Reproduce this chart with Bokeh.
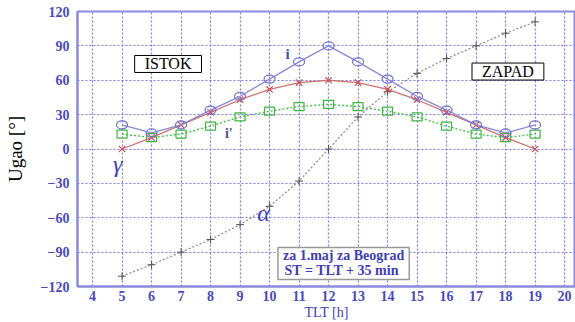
from bokeh.plotting import figure
from bokeh.models import Label, Range1d, FixedTicker
from bokeh.embed import file_html
from bokeh.resources import INLINE

# Solar time (TLT) hours
tlt = [5, 6, 7, 8, 9, 10, 11, 12, 13, 14, 15, 16, 17, 18, 19]

# Angle of incidence i
upadni_i = [21, 14, 21, 34, 46, 61, 76, 90, 76, 61, 46, 34, 21, 14, 21]
# Solar altitude gamma
visina_gamma = [0, 10, 21, 32, 43, 52, 58, 60, 58, 52, 43, 32, 21, 10, 0]
# Angle i'
ugao_i_prim = [13, 10, 13, 20, 28, 33, 37, 39, 37, 33, 28, 20, 13, 10, 13]
# Solar azimuth alpha
azimut_alpha = [-111, -101, -90, -79, -66, -50, -28, 0, 28, 50, 66, 79, 90, 101, 111]

x_ticks = list(range(4, 21))
y_ticks = list(range(-120, 121, 30))

SERIF = "serif"
AXIS_BLUE = "#8a8ae0"
TEXT_BLUE = "#3e3eb4"

p = figure(width=575, height=322, output_backend="svg", toolbar_location=None,
           x_range=Range1d(3.49, 20.37), y_range=Range1d(-120, 120),
           min_border_left=77, min_border_right=0, min_border_top=11,
           min_border_bottom=36)

p.outline_line_color = AXIS_BLUE
p.outline_line_width = 2

for ax in (p.xaxis[0], p.yaxis[0]):
    ax.axis_line_color = AXIS_BLUE
    ax.axis_line_width = 2
    ax.major_tick_in = 0
    ax.major_tick_out = 0
    ax.minor_tick_line_color = None
    ax.major_label_text_font = SERIF
    ax.major_label_text_font_size = "14px"
    ax.major_label_text_font_style = "bold"
    ax.major_label_text_color = "#4a4abc"

p.xaxis.ticker = FixedTicker(ticks=x_ticks)
p.yaxis.ticker = FixedTicker(ticks=y_ticks)
p.xaxis.major_label_standoff = 4
p.yaxis.major_label_standoff = 8

p.xaxis.axis_label = "TLT [h]"
p.xaxis.axis_label_text_font = SERIF
p.xaxis.axis_label_text_font_size = "14px"
p.xaxis.axis_label_text_font_style = "normal"
p.xaxis.axis_label_text_color = TEXT_BLUE
p.xaxis.axis_label_standoff = 1

p.yaxis.axis_label = "Ugao [°]"
p.yaxis.axis_label_text_font = SERIF
p.yaxis.axis_label_text_font_size = "19px"
p.yaxis.axis_label_text_font_style = "normal"
p.yaxis.axis_label_text_color = "black"
p.yaxis.axis_label_standoff = 12

for g in (p.xgrid[0], p.ygrid[0]):
    g.grid_line_color = "#6e6ee6"
    g.grid_line_dash = "2 2"
    g.grid_line_width = 1.2
    g.grid_line_alpha = 0.9

# alpha: gray dotted with crosses
p.line(tlt, azimut_alpha, line_color="#8a8a8a", line_dash="2 2", line_width=1.2)
p.scatter(tlt, azimut_alpha, marker="cross", size=8, line_color="#555555", line_width=1)

# i': green dotted with squares
p.line(tlt, ugao_i_prim, line_color="#3cc03c", line_dash="2 2", line_width=1.3)
p.rect(tlt, ugao_i_prim, width=10, height=8, width_units="screen", height_units="screen",
       fill_color=None, line_color="#3cb83c", line_width=1.2)

# gamma: red line with x marks
p.line(tlt, visina_gamma, line_color="#d07070", line_width=1.3)
p.scatter(tlt, visina_gamma, marker="x", size=9, line_color="#c85050", line_width=1.2)

# i: blue line with open ellipses
p.line(tlt, upadni_i, line_color="#8888dc", line_width=1.3)
p.ellipse(tlt, upadni_i, width=11, height=8, width_units="screen", height_units="screen",
          fill_color=None, line_color="#7070d0", line_width=1.2)

# Direction boxes
for txt, xx, yy in (("ISTOK", 6.56, 74.2), ("ZAPAD", 18.08, 67.6)):
    p.add_layout(Label(x=xx, y=yy, text=txt, text_align="center", text_baseline="middle",
                       text_font=SERIF, text_font_size="16px", text_color="black",
                       border_line_color="black", border_line_width=1,
                       background_fill_color="white",
                       padding=dict(left=10, right=10, top=0, bottom=0)))

# Curve labels
p.add_layout(Label(x=10.61, y=83.3, text="i", text_align="center", text_baseline="middle",
                   text_font=SERIF, text_font_size="15px", text_font_style="bold",
                   text_color="#4a4abc"))
p.add_layout(Label(x=8.62, y=13.5, text="i'", text_align="center", text_baseline="middle",
                   text_font=SERIF, text_font_size="14px", text_font_style="bold",
                   text_color="#505090"))
p.add_layout(Label(x=4.85, y=-12.7, text="γ", text_align="center", text_baseline="middle",
                   text_font=SERIF, text_font_size="24px", text_font_style="italic",
                   text_color="#3e3eb4"))
p.add_layout(Label(x=9.8, y=-56, text="α", text_align="center", text_baseline="middle",
                   text_font=SERIF, text_font_size="24px", text_font_style="italic",
                   text_color="#3e3eb4"))

# Note box
p.add_layout(Label(x=12.51, y=-99.9, text="za 1.maj za Beograd\nST = TLT +  35 min",
                   text_align="center", text_baseline="middle",
                   text_font=SERIF, text_font_size="14px", text_font_style="bold",
                   text_color="#3e3eb4", text_line_height=1.0,
                   border_line_color="#999999", border_line_width=1.5,
                   background_fill_color="white",
                   padding=dict(left=5, right=5, top=1, bottom=1)))

open("out.html", "w").write(file_html(p, INLINE))
